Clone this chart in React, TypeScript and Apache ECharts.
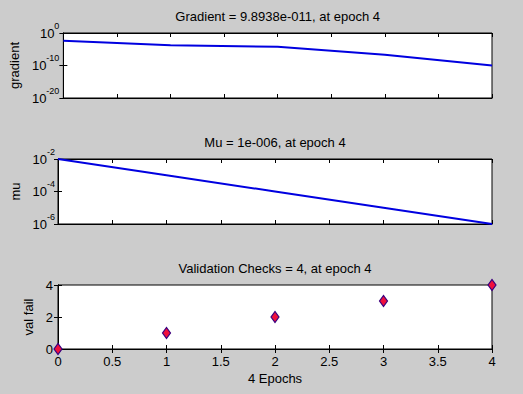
import React, { useEffect, useRef } from 'react';
import * as echarts from 'echarts';

const epochs = [0, 1, 2, 3, 4];
const gradientValues = [4.3e-3, 1.7e-4, 6e-5, 2e-7, 9.8938e-11];
const muValues = [1e-2, 1e-3, 1e-4, 1e-5, 1e-6];
const valFailValues = [0, 1, 2, 3, 4];
const titles = [
  'Gradient = 9.8938e-011, at epoch 4',
  'Mu = 1e-006, at epoch 4',
  'Validation Checks = 4, at epoch 4',
];
const yNames = ['gradient', 'mu', 'val fail'];
const xName = '4 Epochs';

const FONT = '"Liberation Sans", Arial, sans-serif';
const FS = 13;

const powLabel = (v: number) => {
  const e = Math.round(Math.log10(v));
  return `{b|10}{s|${e}}`;
};

const rich = {
  b: { fontSize: FS, lineHeight: 24, fontFamily: FONT, color: '#000' },
  s: { fontSize: 9, lineHeight: 10, verticalAlign: 'top', fontFamily: FONT, color: '#000' },
};

const grids = [
  { left: 58, right: 31, top: 33, height: 65 },
  { left: 58, right: 31, top: 159, height: 65 },
  { left: 58, right: 31, top: 285, height: 64 },
].map((g) => ({ ...g, show: true, backgroundColor: '#fff', borderColor: '#000', borderWidth: 1 }));

const axisLine = { show: true, lineStyle: { color: '#000', width: 1 } };
const axisTick = { show: true, inside: true, length: 4, lineStyle: { color: '#000', width: 1 } };

function xAx(gridIndex: number, position: 'top' | 'bottom', opts: any = {}) {
  return {
    type: 'value',
    gridIndex,
    position,
    min: 0,
    max: 4,
    interval: 0.5,
    axisLine,
    axisTick,
    splitLine: { show: false },
    axisLabel: { show: false },
    nameTextStyle: { fontSize: FS, fontFamily: FONT, color: '#000' },
    ...opts,
  };
}

function yAx(gridIndex: number, position: 'left' | 'right', base: any, opts: any = {}) {
  return {
    gridIndex,
    position,
    axisLine,
    axisTick,
    splitLine: { show: false },
    axisLabel: { show: false },
    nameTextStyle: { fontSize: FS, fontFamily: FONT, color: '#000' },
    ...base,
    ...opts,
  };
}

const gradBase = { type: 'log', logBase: 10, min: 1e-20, max: 1, interval: 10, splitNumber: 2 };
const muBase = { type: 'log', logBase: 10, min: 1e-6, max: 1e-2, interval: 2, splitNumber: 2 };
const valBase = { type: 'value', min: 0, max: 4, interval: 2 };

export default function App() {
  const ref = useRef<HTMLDivElement>(null);
  useEffect(() => {
    if (!ref.current) return;
    const chart = echarts.init(ref.current, null, { renderer: 'svg' });
    const option: any = {
      animation: false,
      backgroundColor: '#cccccc',
      textStyle: { fontFamily: FONT },
      grid: grids,
      xAxis: [
        xAx(0, 'bottom'),
        xAx(0, 'top', { name: titles[0], nameLocation: 'middle', nameGap: 10 }),
        xAx(1, 'bottom'),
        xAx(1, 'top', { name: titles[1], nameLocation: 'middle', nameGap: 10 }),
        xAx(2, 'bottom', {
          axisLabel: { show: true, margin: 6, fontSize: FS, fontFamily: FONT, color: '#000' },
          name: xName,
          nameLocation: 'middle',
          nameGap: 23,
        }),
        xAx(2, 'top', { name: titles[2], nameLocation: 'middle', nameGap: 10 }),
      ],
      yAxis: [
        yAx(0, 'left', gradBase, {
          axisLabel: { show: true, margin: 4, formatter: powLabel, rich },
          name: yNames[0],
          nameLocation: 'middle',
          nameGap: 40,
        }),
        yAx(0, 'right', gradBase),
        yAx(1, 'left', muBase, {
          axisLabel: { show: true, margin: 3, formatter: powLabel, rich },
          name: yNames[1],
          nameLocation: 'middle',
          nameGap: 36,
        }),
        yAx(1, 'right', muBase),
        yAx(2, 'left', valBase, {
          axisLabel: { show: true, margin: 5, fontSize: FS, fontFamily: FONT, color: '#000' },
          name: yNames[2],
          nameLocation: 'middle',
          nameGap: 20,
        }),
        yAx(2, 'right', valBase),
      ],
      series: [
        {
          type: 'line',
          xAxisIndex: 0,
          yAxisIndex: 0,
          data: epochs.map((e, i) => [e, gradientValues[i]]),
          symbol: 'none',
          lineStyle: { color: '#0000e0', width: 2 },
        },
        {
          type: 'line',
          xAxisIndex: 2,
          yAxisIndex: 2,
          data: epochs.map((e, i) => [e, muValues[i]]),
          symbol: 'none',
          lineStyle: { color: '#0000e0', width: 2 },
        },
        {
          type: 'scatter',
          xAxisIndex: 4,
          yAxisIndex: 4,
          data: epochs.map((e, i) => [e, valFailValues[i]]),
          symbol: 'diamond',
          symbolSize: [8, 11],
          clip: false,
          itemStyle: { color: '#f0103c', borderColor: '#3a0080', borderWidth: 1.2, opacity: 1 },
        },
      ],
    };
    chart.setOption(option);
    return () => chart.dispose();
  }, []);
  return (
    <div
      ref={ref}
      style={{ position: 'absolute', left: 0, top: 0, width: 523, height: 394 }}
    />
  );
}
